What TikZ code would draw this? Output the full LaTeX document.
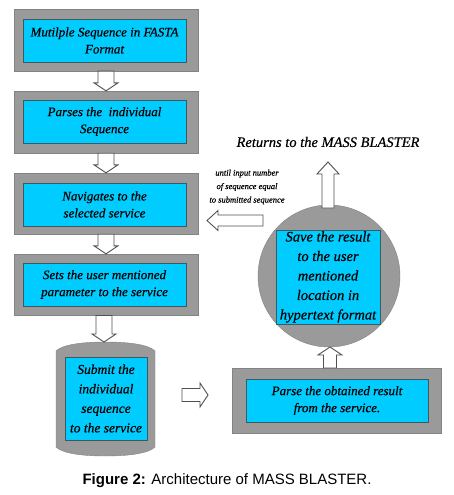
\documentclass[tikz,border=0pt]{standalone}
\usepackage{fontspec}
\setmainfont{Liberation Serif}
\newfontfamily\boxit{Liberation Serif Italic}[FakeBold=0.5]
\newfontfamily\capfont{Liberation Sans}
\usetikzlibrary{calc}
\definecolor{boxgray}{HTML}{9A9A9A}
\definecolor{boxcyan}{HTML}{00CCFF}
\definecolor{edgedark}{HTML}{3C5A64}
\definecolor{arrowedge}{HTML}{505050}
\newcommand{\blkdown}[5]{% #1 upper, #2 lower, #3 half shaft, #4 half head, #5 head length
 \draw[blk] let \p1=(#1), \p2=(#2) in
 ({\x1-#3},\y1) -- ({\x1+#3},\y1) -- ({\x1+#3},{\y2+#5}) -- ({\x1+#4},{\y2+#5}) -- (\x1,\y2) -- ({\x1-#4},{\y2+#5}) -- ({\x1-#3},{\y2+#5}) -- cycle;}
\newcommand{\blkup}[5]{% #1 lower, #2 upper
 \draw[blk] let \p1=(#1), \p2=(#2) in
 ({\x1-#3},\y1) -- ({\x1+#3},\y1) -- ({\x1+#3},{\y2-#5}) -- ({\x1+#4},{\y2-#5}) -- (\x1,\y2) -- ({\x1-#4},{\y2-#5}) -- ({\x1-#3},{\y2-#5}) -- cycle;}
\newcommand{\blkright}[5]{% #1 left, #2 right
 \draw[blk] let \p1=(#1), \p2=(#2) in
 (\x1,{\y1-#3}) -- (\x1,{\y1+#3}) -- ({\x2-#5},{\y1+#3}) -- ({\x2-#5},{\y1+#4}) -- (\x2,\y1) -- ({\x2-#5},{\y1-#4}) -- ({\x2-#5},{\y1-#3}) -- cycle;}
\newcommand{\blkleft}[5]{% #1 right, #2 left
 \draw[blk] let \p1=(#1), \p2=(#2) in
 (\x1,{\y1-#3}) -- (\x1,{\y1+#3}) -- ({\x2+#5},{\y1+#3}) -- ({\x2+#5},{\y1+#4}) -- (\x2,\y1) -- ({\x2+#5},{\y1-#4}) -- ({\x2+#5},{\y1-#3}) -- cycle;}
\begin{document}
\begin{tikzpicture}[x=1pt,y=-1pt,
 outerbox/.style={draw=boxgray!85!black, line width=0.4pt, fill=boxgray, minimum width=184pt, minimum height=62pt, inner sep=0pt},
 innerbox/.style={draw=edgedark, line width=0.5pt, fill=boxcyan, minimum width=163pt, minimum height=43pt, inner sep=0pt, align=center, font=\boxit\fontsize{13}{17}\selectfont},
 blk/.style={draw=arrowedge, fill=white, line width=0.9pt, line join=miter}]
\fill[white] (0,0) rectangle (454,495);
\useasboundingbox (0,0) rectangle (454,495);

% left column boxes
\node[outerbox] (b1o) at (106,40) {};
\node[innerbox] (b1) at (104.5,40.5) {Mutilple Sequence in FASTA\\Format};
\node[outerbox] (b2o) at (106,122) {};
\node[innerbox] (b2) at (104.5,121.5) {Parses the~ individual\\Sequence};
\node[outerbox, minimum height=61pt] (b3o) at (106,203.5) {};
\node[innerbox] (b3) at (104.5,204.5) {Navigates to the\\selected service};
\node[outerbox, minimum height=61pt] (b4o) at (106,284.5) {};
\node[innerbox] (b4) at (104.5,284.5) {Sets the user mentioned\\parameter to the service};

% submit shape
\draw[draw=boxgray!85!black, line width=0.4pt, fill=boxgray]
 (56,351) .. controls (62,345) and (80,342) .. (105.5,342)
 .. controls (131,342) and (149,345) .. (155,351) -- (155,447)
 .. controls (149,453) and (131,456) .. (105.5,456)
 .. controls (80,456) and (62,453) .. (56,447) -- cycle;
\node[innerbox, minimum width=82pt, minimum height=83pt, font=\boxit\fontsize{13.5}{19.5}\selectfont] (b5) at (106,398.5) {Submit the\\individual\\sequence\\to the service};

% parse box
\node[outerbox, minimum width=209pt, minimum height=65pt] (b6o) at (336.5,400.5) {};
\node[innerbox, minimum width=182pt] (b6) at (337,400.5) {Parse the obtained result\\from the service.};

% circle
\node[circle, draw=boxgray!85!black, line width=0.4pt, fill=boxgray, minimum size=142pt, inner sep=0pt] (circ) at (329,276) {};
\node[innerbox, minimum width=104pt, minimum height=94pt, font=\boxit\fontsize{14.5}{19.5}\selectfont] (b7) at (328,277) {Save the result\\to the user\\mentioned\\location in\\hypertext format};

% texts
\node[font=\boxit\fontsize{14.5}{16}\selectfont] (ret) at (328,142) {Returns to the MASS BLASTER};
\node[align=center, font=\boxit\fontsize{8.5}{13.5}\selectfont] (until) at (247,187) {until input number\\of sequence equal\\to submitted sequence};

% arrows
\blkdown{b1o.south}{b2o.north}{8pt}{12pt}{8pt}
\blkdown{b2o.south}{b3o.north}{8pt}{12pt}{8pt}
\blkdown{b3o.south}{b4o.north}{8pt}{12pt}{8pt}
\coordinate (a4t) at (104,315.5);
\coordinate (a4b) at (104,342);
\blkdown{a4t}{a4b}{8pt}{12pt}{8pt}
\coordinate (rA) at (182,395);
\coordinate (rB) at (208,395);
\blkright{rA}{rB}{6.5pt}{12pt}{8pt}
\coordinate (uA) at (330,368);
\coordinate (uB) at (330,347);
\blkup{uA}{uB}{6.5pt}{12pt}{8pt}
\coordinate (tA) at (328,208);
\coordinate (tB) at (328,162);
\blkup{tA}{tB}{6pt}{11pt}{12pt}
\coordinate (lA) at (263,220.5);
\coordinate (lB) at (207,220.5);
\blkleft{lA}{lB}{5.5pt}{10pt}{11pt}

% caption
\node[font=\capfont\fontsize{15}{17}\selectfont] (cap) at (227,481) {\textbf{Figure 2:} Architecture of MASS BLASTER.};
\end{tikzpicture}
\end{document}
